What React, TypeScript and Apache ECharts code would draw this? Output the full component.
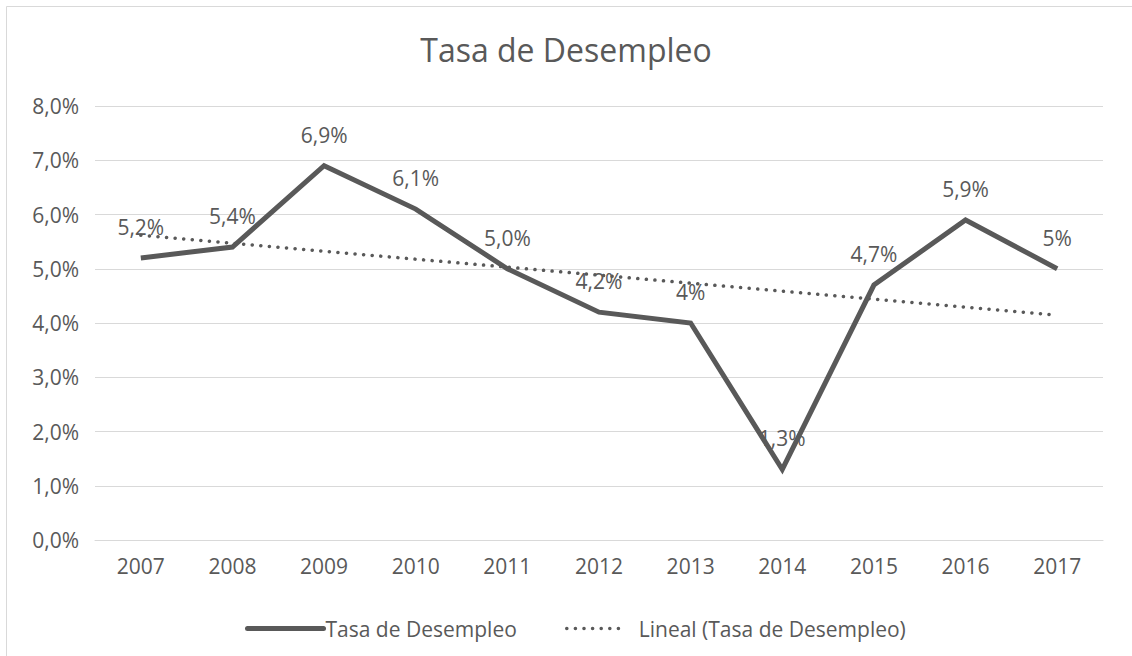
import React, { useEffect, useRef } from "react";
import * as echarts from "echarts";

const years = ["2007", "2008", "2009", "2010", "2011", "2012", "2013", "2014", "2015", "2016", "2017"];
const rates = [5.2, 5.4, 6.9, 6.1, 5.0, 4.2, 4.0, 1.3, 4.7, 5.9, 5.0];
const rateLabels = ["5,2%", "5,4%", "6,9%", "6,1%", "5,0%", "4,2%", "4%", "1,3%", "4,7%", "5,9%", "5%"];
const seriesName = "Tasa de Desempleo";
const trendName = "Lineal (Tasa de Desempleo)";
const titleText = "Tasa de Desempleo";

function linearTrend(values: number[]): number[] {
  const n = values.length;
  const mx = (n - 1) / 2;
  const my = values.reduce((a, b) => a + b, 0) / n;
  let sxy = 0;
  let sxx = 0;
  values.forEach((v, i) => {
    sxy += (i - mx) * (v - my);
    sxx += (i - mx) * (i - mx);
  });
  const slope = sxy / sxx;
  return values.map((_, i) => my + slope * (i - mx));
}

const FONT = "'Open Sans', sans-serif";
const TEXT = "#595959";
const GRID = "#D9D9D9";
const DOTS = [0.1, 8.5];

export default function App() {
  const ref = useRef<HTMLDivElement>(null);
  useEffect(() => {
    if (!ref.current) return;
    const chart = echarts.init(ref.current, null, { renderer: "svg" });
    const trend = linearTrend(rates);
    chart.setOption({
      animation: false,
      backgroundColor: "#ffffff",
      textStyle: { fontFamily: FONT, color: TEXT },
      title: {
        text: titleText,
        left: "center",
        top: 28,
        textStyle: { fontFamily: FONT, fontSize: 32, fontWeight: "normal", color: TEXT },
      },
      graphic: [
        {
          type: "rect",
          shape: { x: 6.5, y: 6.5, width: 1140, height: 680 },
          style: { fill: "none", stroke: GRID, lineWidth: 1 },
          silent: true,
        },
      ],
      legend: [
        {
          data: [seriesName],
          left: 240,
          top: 613,
          itemWidth: 76,
          itemHeight: 14,
          itemGap: 0,
          itemStyle: { opacity: 0 },
          lineStyle: { width: 5, color: TEXT, cap: "round" },
          textStyle: { fontFamily: FONT, fontSize: 21, color: TEXT, padding: [0, 0, 0, -3] },
        },
        {
          data: [trendName],
          left: 560,
          top: 613,
          itemWidth: 60,
          itemHeight: 14,
          itemGap: 0,
          itemStyle: { opacity: 0 },
          lineStyle: { width: 3.5, color: TEXT, type: DOTS, cap: "round" },
          textStyle: { fontFamily: FONT, fontSize: 21, color: TEXT, padding: [0, 0, 0, 7] },
        },
      ],
      grid: { left: 95, right: 29, top: 106, bottom: 116, containLabel: false },
      xAxis: {
        type: "category",
        data: years,
        boundaryGap: true,
        axisLine: { show: true, lineStyle: { color: GRID, width: 1 } },
        axisTick: { show: false },
        axisLabel: { color: TEXT, fontFamily: FONT, fontSize: 21, margin: 15 },
      },
      yAxis: {
        type: "value",
        min: 0,
        max: 8,
        interval: 1,
        axisLine: { show: false },
        axisTick: { show: false },
        splitLine: { show: true, lineStyle: { color: GRID, width: 1 } },
        axisLabel: {
          color: TEXT,
          fontFamily: FONT,
          fontSize: 21,
          margin: 16,
          formatter: (v: number) => v.toFixed(1).replace(".", ",") + "%",
        },
      },
      series: [
        {
          name: seriesName,
          type: "line",
          data: rates,
          symbol: "circle",
          symbolSize: 1,
          showSymbol: true,
          itemStyle: { color: TEXT, opacity: 0 },
          color: TEXT,
          lineStyle: { color: TEXT, width: 5, join: "miter", opacity: 1 },
          label: {
            show: true,
            position: "top",
            distance: 20,
            color: TEXT,
            opacity: 1,
            fontFamily: FONT,
            fontSize: 21,
            formatter: (p: any) => rateLabels[p.dataIndex],
          },
          labelLayout: { hideOverlap: false },
          z: 3,
        },
        {
          name: trendName,
          type: "line",
          data: trend,
          symbol: "none",
          color: TEXT,
          lineStyle: { color: TEXT, width: 3.5, type: DOTS, cap: "round" },
          label: { show: false },
          z: 2,
        },
      ],
    });
    return () => chart.dispose();
  }, []);
  return (
    <div
      ref={ref}
      style={{ position: "fixed", left: 0, top: 0, width: 1132, height: 656 }}
    />
  );
}
